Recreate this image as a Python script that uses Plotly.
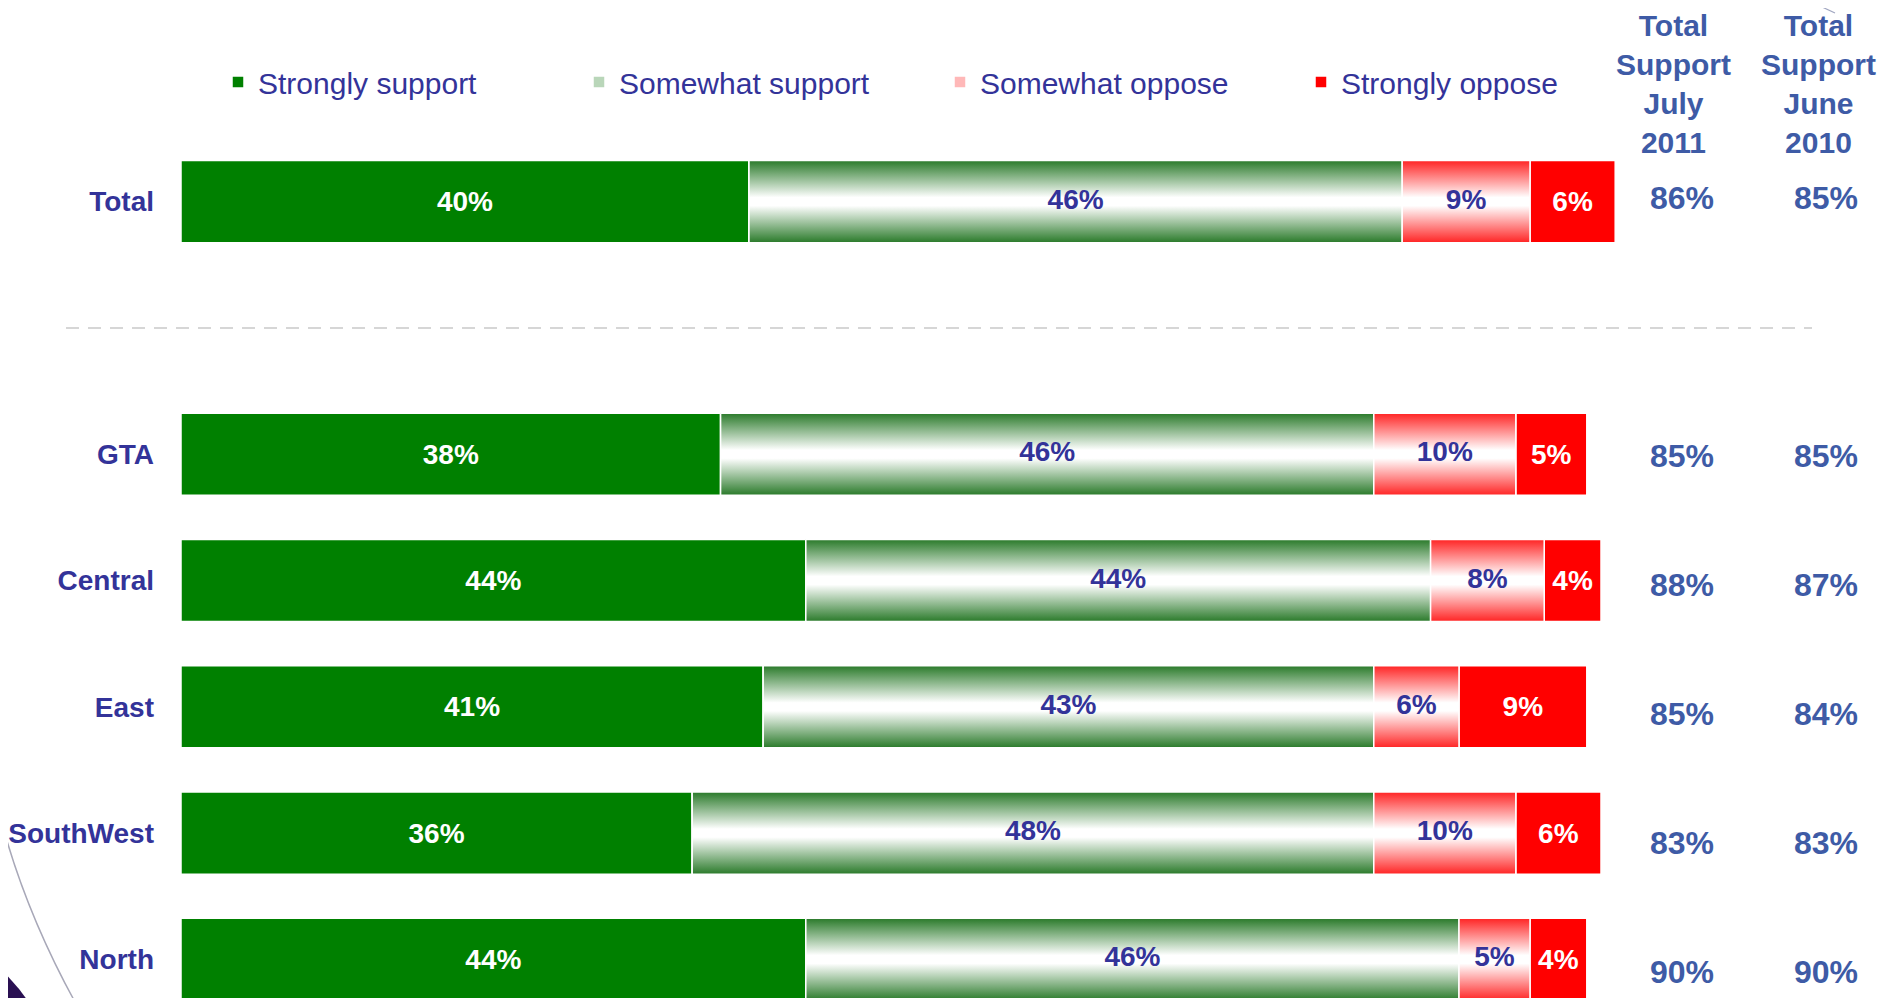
import plotly.graph_objects as go

# survey results, percent of respondents
rows = ["Total", "GTA", "Central", "East", "SouthWest", "North"]
row_pos = [0, 2, 3, 4, 5, 6]

strongly_support = [40, 38, 44, 41, 36, 44]
somewhat_support = [46, 46, 44, 43, 48, 46]
somewhat_oppose = [9, 10, 8, 6, 10, 5]
strongly_oppose = [6, 5, 4, 9, 6, 4]

total_support_2011 = [86, 85, 88, 85, 83, 90]
total_support_2010 = [85, 85, 87, 84, 83, 90]

series_names = ["Strongly support", "Somewhat support", "Somewhat oppose", "Strongly oppose"]
col_headers = ["Total<br>Support<br>July<br>2011", "Total<br>Support<br>June<br>2010"]

W, H = 1904, 998
OFF = 8           # page body margin around the plot div
ML = 181 - OFF    # left edge of the bars, in figure pixels
PX_PER_PCT = 14.2
NAVY = "#333399"
STEEL = "#3E5BA6"
SANS = "Liberation Sans, Arial"

GREEN_FADE = [[0, "#2a7a2a"], [0.45, "#ffffff"], [0.55, "#ffffff"], [1, "#2a7a2a"]]
RED_FADE = [[0, "#ff2424"], [0.45, "#ffffff"], [0.55, "#ffffff"], [1, "#ff2424"]]
BAR_W = 0.65


def px(xp):
    """page pixel x -> paper x"""
    return (xp - OFF - ML) / (W - ML)


def py(yp):
    """page pixel y -> paper y"""
    return 1 - (yp - OFF) / H


def dx(xp):
    """page pixel x -> data x"""
    return (xp - OFF - ML) / PX_PER_PCT


def y_range(first_row_px, row_px):
    """reversed axis range putting row 0 at page y first_row_px"""
    top = (0 - (first_row_px - OFF)) / row_px
    bot = (H - (first_row_px - OFF)) / row_px
    return [bot, top]


base1 = [0] * len(rows)
base2 = [a for a in strongly_support]
base3 = [a + b for a, b in zip(strongly_support, somewhat_support)]
base4 = [a + b + c for a, b, c in zip(strongly_support, somewhat_support, somewhat_oppose)]

segments = [
    (strongly_support, base1, "#008000", None),
    (somewhat_support, base2, "#b9d6b9", GREEN_FADE),
    (somewhat_oppose, base3, "#ffb8b8", RED_FADE),
    (strongly_oppose, base4, "#ff0000", None),
]

fig = go.Figure()

for name, (vals, base, color, fade) in zip(series_names, segments):
    fig.add_trace(go.Bar(
        name=name,
        orientation="h",
        y=row_pos,
        x=vals,
        base=base,
        width=BAR_W,
        marker=dict(color=color, line=dict(color="white", width=1.5)),
        text=[f"{v}%" for v in vals] if fade is None else None,
        textposition="inside",
        insidetextanchor="middle",
        constraintext="none",
        textfont=dict(family=SANS, size=28, color="white", weight="bold"),
        hoverinfo="skip",
    ))

# gradient fill for the "somewhat" segments
h = BAR_W / 2
for vals, base, color, fade in segments:
    if fade is None:
        continue
    for r, b, v in zip(row_pos, base, vals):
        fig.add_trace(go.Scatter(
            x=[b, b + v, b + v, b, b],
            y=[r - h, r - h, r + h, r + h, r - h],
            mode="lines",
            fill="toself",
            fillgradient=dict(type="vertical", colorscale=fade),
            line=dict(color="white", width=1.5),
            showlegend=False,
            hoverinfo="skip",
        ))
    fig.add_trace(go.Scatter(
        x=[b + v / 2 for b, v in zip(base, vals)],
        y=row_pos,
        mode="text",
        text=[f"{v}%" for v in vals],
        textfont=dict(family=SANS, size=28, color=NAVY, weight="bold"),
        showlegend=False,
        hoverinfo="skip",
    ))

# total support columns on the right (own, slightly looser row axis)
for cx, vals in zip([dx(1682), dx(1826)], [total_support_2011, total_support_2010]):
    fig.add_trace(go.Scatter(
        x=[cx] * len(vals),
        y=row_pos,
        yaxis="y2",
        mode="text",
        text=[f"{v}%" for v in vals],
        textfont=dict(family=SANS, size=32, color=STEEL, weight="bold"),
        showlegend=False,
        hoverinfo="skip",
    ))

for hx, txt in zip([1673, 1818], col_headers):
    fig.add_annotation(
        xref="paper", yref="paper", x=px(hx), y=py(84),
        text=txt, showarrow=False, align="center",
        xanchor="center", yanchor="middle",
        font=dict(family=SANS, size=30, color=STEEL, weight="bold"),
    )

# separator between Total and the regions
fig.add_shape(type="line", xref="paper", yref="y",
              x0=px(66), x1=px(1812), y0=1, y1=1,
              line=dict(color="#d6d6d6", width=2, dash="13px,9px"))

# slide decorations
fig.add_shape(type="circle", xref="paper", yref="paper",
              x0=px(-322), x1=px(62), y0=py(1302), y1=py(918),
              fillcolor="#2a1052", line=dict(width=0), layer="below")
fig.add_shape(type="path", xref="paper", yref="paper",
              path=f"M {px(-2)},{py(808)} Q {px(22)},{py(905)} {px(75)},{py(1002)}",
              line=dict(color="#a8a8b8", width=1.5))
fig.add_shape(type="line", xref="paper", yref="paper",
              x0=px(1807), y0=py(0), x1=px(1835), y1=py(13),
              line=dict(color="#a0a6c0", width=1.2))

fig.update_layout(
    width=W,
    height=H,
    margin=dict(l=ML, r=0, t=0, b=0),
    plot_bgcolor="white",
    paper_bgcolor="white",
    barmode="overlay",
    hovermode=False,
    showlegend=True,
    legend=dict(
        orientation="h",
        x=px(218), xanchor="left",
        y=py(82), yanchor="middle",
        traceorder="normal",
        entrywidth=316,
        bgcolor="rgba(0,0,0,0)",
        font=dict(family=SANS, size=30, color=NAVY),
    ),
    xaxis=dict(range=[0, (W - ML) / PX_PER_PCT], visible=False, fixedrange=True),
    yaxis=dict(
        range=y_range(201.6, 126.3),
        tickvals=row_pos,
        ticktext=rows,
        showgrid=False,
        zeroline=False,
        showline=False,
        ticks="",
        ticklabelstandoff=26,
        automargin=False,
        tickfont=dict(family=SANS, size=28, color=NAVY, weight="bold"),
        fixedrange=True,
    ),
    yaxis2=dict(
        overlaying="y",
        range=y_range(201, 129),
        visible=False,
        fixedrange=True,
    ),
)

fig.write_html("out.html")
